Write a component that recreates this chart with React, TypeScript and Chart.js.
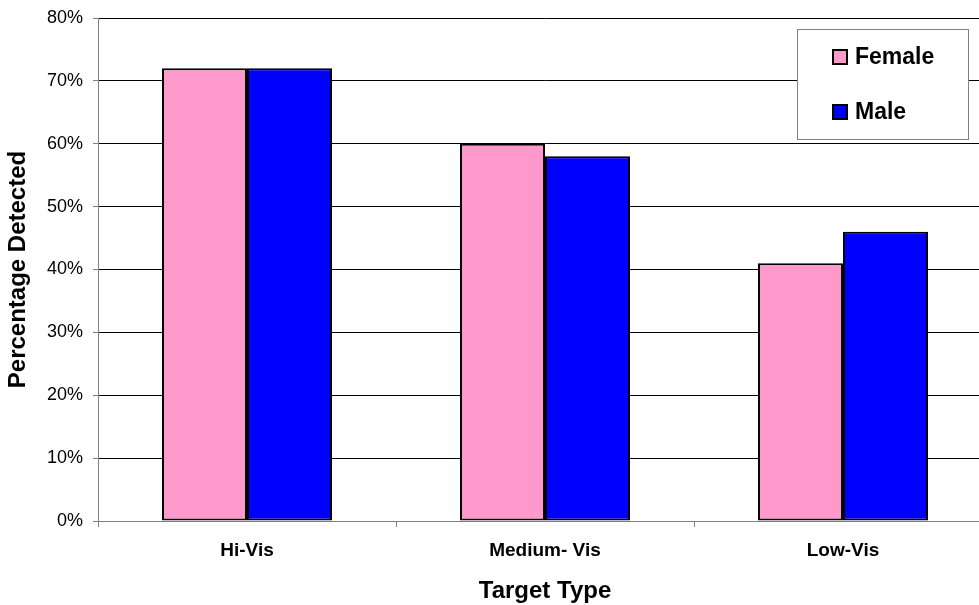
import React, { useEffect, useRef } from "react";
import { Chart, registerables } from "chart.js";

Chart.register(...registerables);

const categories = ["Hi-Vis", "Medium- Vis", "Low-Vis"];
const femaleValues = [72, 60, 41];
const maleValues = [72, 58, 46];
const seriesNames = ["Female", "Male"];
const seriesColors = ["#FF99CC", "#0000FF"];
const yTicksMin = 0;
const yTicksMax = 80;
const yTickStep = 10;

const FONT = "'Liberation Sans', Arial, sans-serif";

const legendPlugin = {
  id: "boxLegend",
  afterDraw(chart: any) {
    const ctx = chart.ctx;
    ctx.save();
    const x0 = 797, y0 = 29, w = 171, h = 110;
    ctx.fillStyle = "#FFFFFF";
    ctx.fillRect(x0, y0, w, h);
    ctx.strokeStyle = "#808080";
    ctx.lineWidth = 1;
    ctx.strokeRect(x0 + 0.5, y0 + 0.5, w, h);
    const rows = [57, 112];
    chart.data.datasets.forEach((ds: any, i: number) => {
      const cy = rows[i];
      ctx.fillStyle = ds.backgroundColor;
      ctx.fillRect(833, cy - 7, 14, 14);
      ctx.strokeStyle = "#000";
      ctx.lineWidth = 2;
      ctx.strokeRect(833, cy - 7, 14, 14);
      ctx.fillStyle = "#000";
      ctx.font = `bold 23px ${FONT}`;
      ctx.textBaseline = "middle";
      ctx.textAlign = "left";
      ctx.fillText(ds.label, 855, cy + 1);
    });
    ctx.restore();
  },
};

export default function App() {
  const canvasRef = useRef<HTMLCanvasElement | null>(null);

  useEffect(() => {
    document.body.style.overflow = "hidden";
    const canvas = canvasRef.current;
    if (!canvas) return;
    const chart = new Chart(canvas, {
      type: "bar",
      data: {
        labels: categories,
        datasets: [
          {
            label: seriesNames[0],
            data: femaleValues,
            backgroundColor: seriesColors[0],
            borderColor: "#000000",
            borderWidth: 2,
            borderSkipped: false,
          },
          {
            label: seriesNames[1],
            data: maleValues,
            backgroundColor: seriesColors[1],
            borderColor: "#000000",
            borderWidth: 2,
            borderSkipped: false,
          },
        ],
      },
      options: {
        responsive: false,
        animation: false,
        devicePixelRatio: 1,
        layout: { padding: { top: 18, left: 0, right: 0, bottom: 0 } },
        datasets: {
          bar: { categoryPercentage: 0.5705, barPercentage: 1 },
        },
        plugins: {
          legend: { display: false },
          tooltip: { enabled: false },
        },
        scales: {
          x: {
            grid: {
              display: true,
              offset: true,
              drawOnChartArea: false,
              drawTicks: true,
              tickLength: 6,
              tickColor: "#808080",
              color: "#808080",
            },
            border: { display: true, color: "#808080", width: 1 },
            ticks: {
              color: "#000",
              font: { family: FONT, size: 19, weight: "bold" },
              padding: 12,
              maxRotation: 0,
            },
            title: {
              display: true,
              text: "Target Type",
              color: "#000",
              font: { family: FONT, size: 24, weight: "bold", lineHeight: 1.1 },
              padding: { top: 0, bottom: 0 },
            },
            afterFit(scale: any) {
              scale.height = 84;
              scale.paddingLeft = 0;
              scale.paddingRight = 0;
            },
          },
          y: {
            min: yTicksMin,
            max: yTicksMax,
            grid: {
              color: (c: any) => (c.tick && c.tick.value === 0 ? "#808080" : "#000000"),
              tickColor: "#808080",
              tickLength: 5,
              drawTicks: true,
            },
            border: { display: true, color: "#808080", width: 1 },
            ticks: {
              stepSize: yTickStep,
              color: "#000",
              font: { family: FONT, size: 18 },
              padding: 10,
              callback: (v: any) => `${v}%`,
            },
            title: {
              display: true,
              text: "Percentage Detected",
              color: "#000",
              font: { family: FONT, size: 24, weight: "bold", lineHeight: 1.1 },
              padding: { top: 5, bottom: 0 },
            },
            afterFit(scale: any) {
              scale.width = 98;
              scale.paddingTop = 0;
              scale.paddingBottom = 0;
            },
          },
        },
      },
      plugins: [legendPlugin],
    });
    return () => chart.destroy();
  }, []);

  return (
    <div style={{ position: "fixed", left: 0, top: 0, width: 992, height: 605, background: "#fff" }}>
      <canvas ref={canvasRef} width={992} height={605} style={{ display: "block" }} />
    </div>
  );
}
